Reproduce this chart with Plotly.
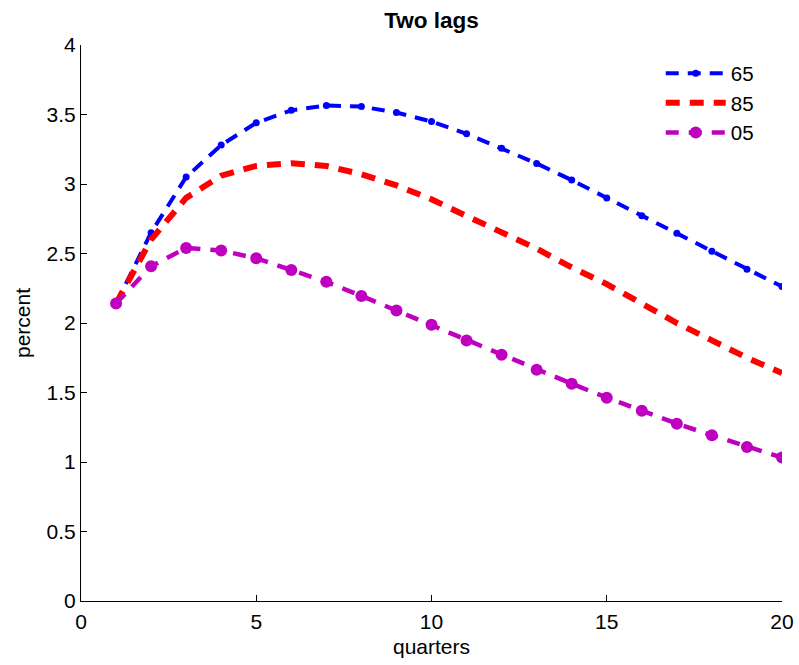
import plotly.graph_objects as go

quarters = list(range(1, 21))

# impulse responses, percent
resp_65 = [2.14, 2.65, 3.05, 3.28, 3.44, 3.53, 3.565, 3.557, 3.514, 3.449,
           3.361, 3.258, 3.148, 3.028, 2.899, 2.772, 2.645, 2.516, 2.386, 2.262]
resp_85 = [2.14, 2.60, 2.90, 3.06, 3.13, 3.15, 3.13, 3.07, 2.99, 2.89,
           2.77, 2.65, 2.535, 2.40, 2.28, 2.14, 2.00, 1.875, 1.75, 1.64]
resp_05 = [2.14, 2.408, 2.540, 2.521, 2.466, 2.382, 2.296, 2.195, 2.09, 1.987,
           1.874, 1.771, 1.664, 1.563, 1.463, 1.369, 1.276, 1.192, 1.108, 1.032]

series_names = ["65", "85", "05"]

x_ticks = [0, 5, 10, 15, 20]
y_ticks = [0, 0.5, 1, 1.5, 2, 2.5, 3, 3.5, 4]
y_tick_text = ["0", "0.5", "1", "1.5", "2", "2.5", "3", "3.5", "4"]

FONT = "Liberation Sans, Arial, sans-serif"

fig = go.Figure()
fig.add_trace(go.Scatter(
    x=quarters, y=resp_65, name=series_names[0], mode="lines+markers",
    line=dict(color="#0000FF", width=4, dash="13px,9px"),
    marker=dict(color="#0000FF", size=7, symbol="circle"),
))
fig.add_trace(go.Scatter(
    x=quarters, y=resp_85, name=series_names[1], mode="lines",
    line=dict(color="#FF0000", width=6, dash="14px,10px"),
))
fig.add_trace(go.Scatter(
    x=quarters, y=resp_05, name=series_names[2], mode="lines+markers",
    line=dict(color="#BF00BF", width=4.5, dash="13px,10px"),
    marker=dict(color="#BF00BF", size=12, symbol="circle"),
))

fig.update_layout(
    width=799, height=665,
    margin=dict(l=81, r=17, t=45, b=64, autoexpand=False),
    paper_bgcolor="white", plot_bgcolor="white",
    font=dict(family=FONT, size=21, color="black"),
    title=dict(text="<b>Two lags</b>", x=0.54, xanchor="center",
               y=0.97, yanchor="middle", font=dict(size=22.5)),
    showlegend=True,
    legend=dict(x=0.827, y=0.985, xanchor="left", yanchor="top",
                bgcolor="rgba(0,0,0,0)", borderwidth=0,
                itemwidth=60, font=dict(size=20.5), tracegroupgap=0),
    xaxis=dict(range=[0, 20], tickvals=x_ticks, ticks="inside", ticklen=6,
               tickcolor="black", showline=True, linecolor="black", linewidth=1,
               showgrid=False, zeroline=False, mirror=False, automargin=False,
               ticklabelstandoff=2,
               title=dict(text="quarters", standoff=7, font=dict(size=21)),
               tickfont=dict(size=21)),
    yaxis=dict(range=[0, 4], tickvals=y_ticks, ticktext=y_tick_text,
               ticks="inside", ticklen=6, tickcolor="black",
               showline=True, linecolor="black", linewidth=1,
               showgrid=False, zeroline=False, mirror=False, automargin=False,
               title=dict(text="percent", standoff=10, font=dict(size=21)),
               tickfont=dict(size=21)),
)

fig.write_html("out.html")
